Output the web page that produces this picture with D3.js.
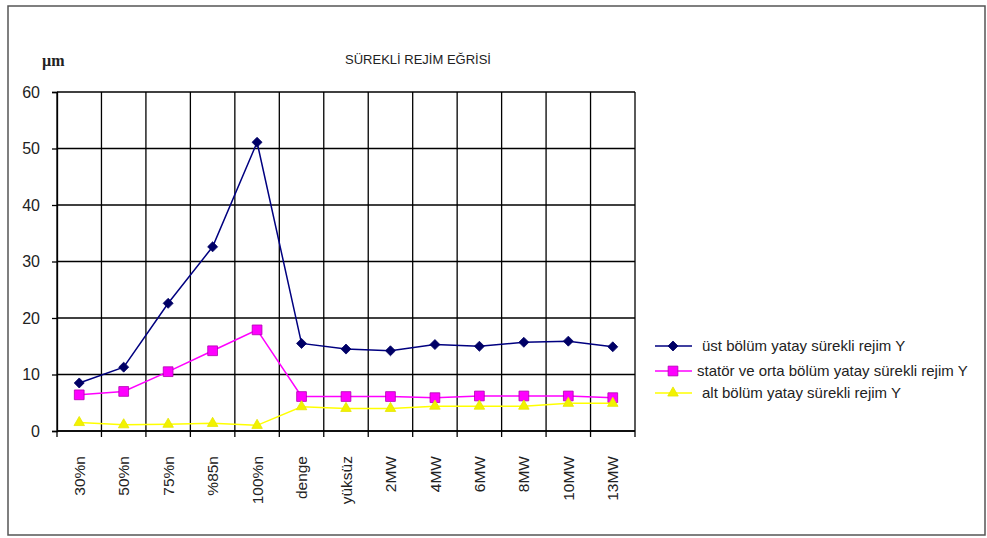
<!DOCTYPE html>
<html>
<head>
<meta charset="utf-8">
<script src="https://cdn.jsdelivr.net/npm/d3@7"></script>
<style>
  html, body { margin: 0; padding: 0; background: #fff; }
  svg { display: block; font-family: "Liberation Sans", Arial, sans-serif; }
</style>
</head>
<body>
<svg id="chart" width="987" height="538"></svg>
<script>
// Operating stages along the x axis
const categories = ["30%n", "50%n", "75%n", "%85n", "100%n", "denge", "yüksüz",
                    "2MW", "4MW", "6MW", "8MW", "10MW", "13MW"];

// Horizontal vibration (µm) for each bearing section
const ustValues    = [8.5, 11.3, 22.6, 32.6, 51.1, 15.5, 14.5, 14.2, 15.3, 15.0, 15.7, 15.9, 14.9];
const statorValues = [6.4, 7.0, 10.5, 14.2, 17.9, 6.1, 6.1, 6.1, 5.9, 6.2, 6.2, 6.2, 5.9];
const altValues    = [1.5, 1.1, 1.2, 1.35, 1.0, 4.3, 4.0, 4.0, 4.4, 4.4, 4.4, 4.9, 4.9];

const seriesNames = [
  "üst bölüm yatay sürekli rejim Y",
  "statör ve orta bölüm yatay sürekli rejim Y",
  "alt bölüm yatay sürekli rejim Y"
];

const yTicks = [0, 10, 20, 30, 40, 50, 60];

const series = [
  { name: seriesNames[0], values: ustValues,    line: "#000080", fill: "#000066", stroke: "#000066", symbol: d3.symbolDiamond2, size: 64 },
  { name: seriesNames[1], values: statorValues, line: "#ff00ff", fill: "#ff00ff", stroke: "#b000b0", symbol: d3.symbolSquare,   size: 95 },
  { name: seriesNames[2], values: altValues,    line: "#ffff00", fill: "#f2f200", stroke: "#e6e600", symbol: d3.symbolTriangle, size: 48 }
];

const svg = d3.select("#chart");
const plot = { left: 57, right: 635, top: 92, bottom: 431 };

const x = d3.scaleBand().domain(categories).range([plot.left, plot.right]);
const y = d3.scaleLinear().domain([0, 60]).range([plot.bottom, plot.top]);

// outer frame
svg.append("rect")
  .attr("x", 8).attr("y", 6).attr("width", 977).attr("height", 529)
  .attr("fill", "none").attr("stroke", "#555").attr("stroke-width", 1.5);

// title
svg.append("text")
  .attr("x", 418).attr("y", 64)
  .attr("text-anchor", "middle")
  .attr("font-size", 13).attr("fill", "#222")
  .text("SÜREKLİ REJİM EĞRİSİ");

// unit label
svg.append("text")
  .attr("x", 42).attr("y", 66)
  .style("font-family", "'Liberation Serif', 'Times New Roman', serif")
  .style("font-weight", "bold")
  .style("font-size", "16px").attr("fill", "#222")
  .text("µm");

// grid
const grid = svg.append("g").attr("stroke", "#000").attr("stroke-width", 1.3);
grid.selectAll("line.h").data(yTicks).join("line")
  .attr("x1", plot.left).attr("x2", plot.right)
  .attr("y1", d => y(d)).attr("y2", d => y(d));
const bounds = categories.map(c => x(c)).concat([plot.right]);
grid.selectAll("line.v").data(bounds).join("line")
  .attr("x1", d => d).attr("x2", d => d)
  .attr("y1", plot.top).attr("y2", plot.bottom);

// y axis
const yAxis = svg.append("g")
  .attr("transform", `translate(${plot.left},0)`)
  .call(d3.axisLeft(y).tickValues(yTicks).tickSize(5).tickPadding(12).tickFormat(d3.format("d")));
yAxis.select(".domain").attr("stroke", "#000").attr("stroke-width", 1.3);
yAxis.selectAll(".tick line").attr("stroke", "#000").attr("stroke-width", 1.3);
yAxis.selectAll(".tick text")
  .attr("font-size", 16).attr("fill", "#222")
  .attr("font-family", "'Liberation Sans', Arial, sans-serif");

// x axis: ticks on the band boundaries
const xAxis = svg.append("g").attr("transform", `translate(0,${plot.bottom})`);
xAxis.append("line")
  .attr("x1", plot.left).attr("x2", plot.right)
  .attr("stroke", "#000").attr("stroke-width", 1.3);
xAxis.selectAll("line.t").data(bounds).join("line")
  .attr("x1", d => d).attr("x2", d => d)
  .attr("y1", 0).attr("y2", 6)
  .attr("stroke", "#000").attr("stroke-width", 1.3);

svg.append("g").selectAll("text").data(categories).join("text")
  .attr("transform", d => `translate(${x(d) + x.bandwidth() / 2},456) rotate(-90)`)
  .attr("text-anchor", "end")
  .attr("dy", "0.36em")
  .attr("font-size", 15.5).attr("fill", "#222")
  .text(d => d);

// series
const line = d3.line()
  .x((d, i) => x(categories[i]) + x.bandwidth() / 2)
  .y(d => y(d));

series.forEach(s => {
  const g = svg.append("g");
  g.append("path")
    .attr("d", line(s.values))
    .attr("fill", "none").attr("stroke", s.line).attr("stroke-width", 1.5);
  g.selectAll("path.m").data(s.values).join("path")
    .attr("class", "m")
    .attr("transform", (d, i) => `translate(${x(categories[i]) + x.bandwidth() / 2},${y(d)})`)
    .attr("d", d3.symbol().type(s.symbol).size(s.size))
    .attr("fill", s.fill).attr("stroke", s.stroke).attr("stroke-width", 0.8);
});

// legend
const legendY = [346, 371, 393];
const legend = svg.append("g");
series.forEach((s, i) => {
  const g = legend.append("g").attr("transform", `translate(0,${legendY[i]})`);
  g.append("line")
    .attr("x1", 655).attr("x2", 692)
    .attr("stroke", s.line).attr("stroke-width", 1.5);
  g.append("path")
    .attr("transform", "translate(673,0)")
    .attr("d", d3.symbol().type(s.symbol).size(s.size))
    .attr("fill", s.fill).attr("stroke", s.stroke).attr("stroke-width", 0.8);
  g.append("text")
    .attr("x", i === 1 ? 697 : 702).attr("dy", "0.35em")
    .attr("font-size", 15).attr("fill", "#222")
    .text(s.name);
});
</script>
</body>
</html>
